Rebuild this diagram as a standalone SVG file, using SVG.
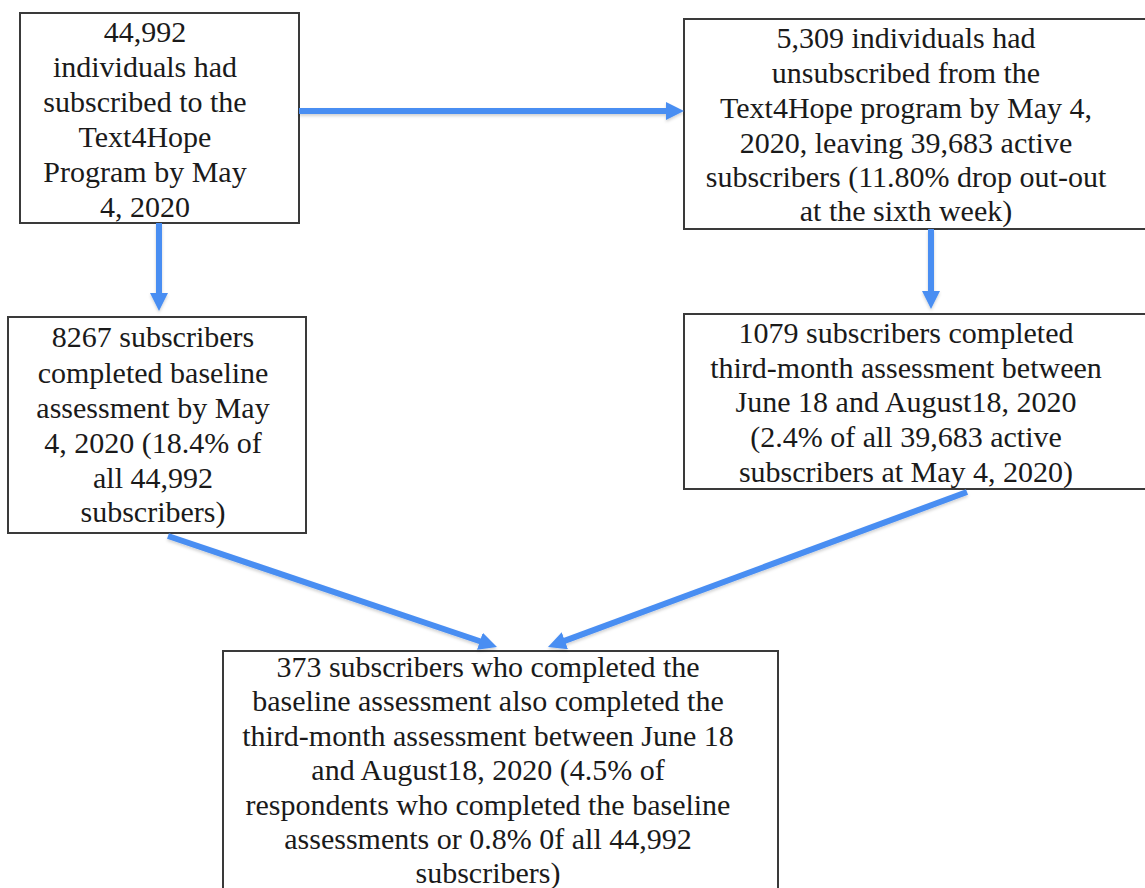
<svg xmlns="http://www.w3.org/2000/svg" width="1145" height="888" viewBox="0 0 1145 888">
<style>
.box{fill:#ffffff;stroke:#3a3a3a;stroke-width:2}
.t{font-family:"Liberation Serif","Times New Roman",serif;font-size:30px;fill:#1a1a1a;text-anchor:middle}
.conn{stroke:#4a8ef2;stroke-width:6;fill:none;marker-end:url(#ah);filter:url(#sh)}
</style>
<defs>
<marker id="ah" markerUnits="userSpaceOnUse" markerWidth="18" markerHeight="18" refX="4" refY="9" orient="auto" viewBox="0 0 18 18">
<path d="M0,0 L18,9 L0,18 z" fill="#4a8ef2"/>
</marker>
<filter id="sh" filterUnits="userSpaceOnUse" x="0" y="0" width="1145" height="888">
<feDropShadow dx="0" dy="2" stdDeviation="1.5" flood-color="#000" flood-opacity="0.18"/>
</filter>
</defs>
<rect width="1145" height="888" fill="#ffffff"/>
<g id="n1">
<rect class="box" x="20" y="13" width="279" height="210"/>
<text class="t"><tspan x="145" y="42">44,992</tspan><tspan x="145" y="77">individuals had</tspan><tspan x="145" y="112">subscribed to the</tspan><tspan x="145" y="147">Text4Hope</tspan><tspan x="145" y="182">Program by May</tspan><tspan x="145" y="217">4, 2020</tspan></text>
</g>
<g id="n2">
<rect class="box" x="684" y="19" width="475" height="210"/>
<text class="t"><tspan x="906" y="48">5,309 individuals had</tspan><tspan x="906" y="83">unsubscribed from the</tspan><tspan x="906" y="118">Text4Hope program by May 4,</tspan><tspan x="906" y="153">2020, leaving 39,683 active</tspan><tspan x="906" y="187">subscribers (11.80% drop out-out</tspan><tspan x="906" y="221">at the sixth week)</tspan></text>
</g>
<g id="n3">
<rect class="box" x="8" y="317" width="298" height="216"/>
<text class="t"><tspan x="153" y="347">8267 subscribers</tspan><tspan x="153" y="383">completed baseline</tspan><tspan x="153" y="418">assessment by May</tspan><tspan x="153" y="453">4, 2020 (18.4% of</tspan><tspan x="153" y="488">all 44,992</tspan><tspan x="153" y="522">subscribers)</tspan></text>
</g>
<g id="n4">
<rect class="box" x="684" y="314" width="475" height="175"/>
<text class="t"><tspan x="906" y="343">1079 subscribers completed</tspan><tspan x="906" y="378">third-month assessment between</tspan><tspan x="906" y="412">June 18 and August18, 2020</tspan><tspan x="906" y="447">(2.4% of all 39,683 active</tspan><tspan x="906" y="482">subscribers at May 4, 2020)</tspan></text>
</g>
<g id="n5">
<rect class="box" x="223" y="651" width="555" height="260"/>
<text class="t"><tspan x="488" y="677">373 subscribers who completed the</tspan><tspan x="488" y="711.4">baseline assessment also completed the</tspan><tspan x="488" y="745.8">third-month assessment between June 18</tspan><tspan x="488" y="780.2">and August18, 2020 (4.5% of</tspan><tspan x="488" y="814.6">respondents who completed the baseline</tspan><tspan x="488" y="849">assessments or 0.8% 0f all 44,992</tspan><tspan x="488" y="883.4">subscribers)</tspan></text>
</g>
<g id="connectors">
<path class="conn" d="M299,111 L670,111"/>
<path class="conn" d="M159,223 L159,297"/>
<path class="conn" d="M931,229 L931,295"/>
<path class="conn" d="M168,536 L483.7,642.5"/>
<path class="conn" d="M967,492 L561.1,642.1"/>
</g>
</svg>
